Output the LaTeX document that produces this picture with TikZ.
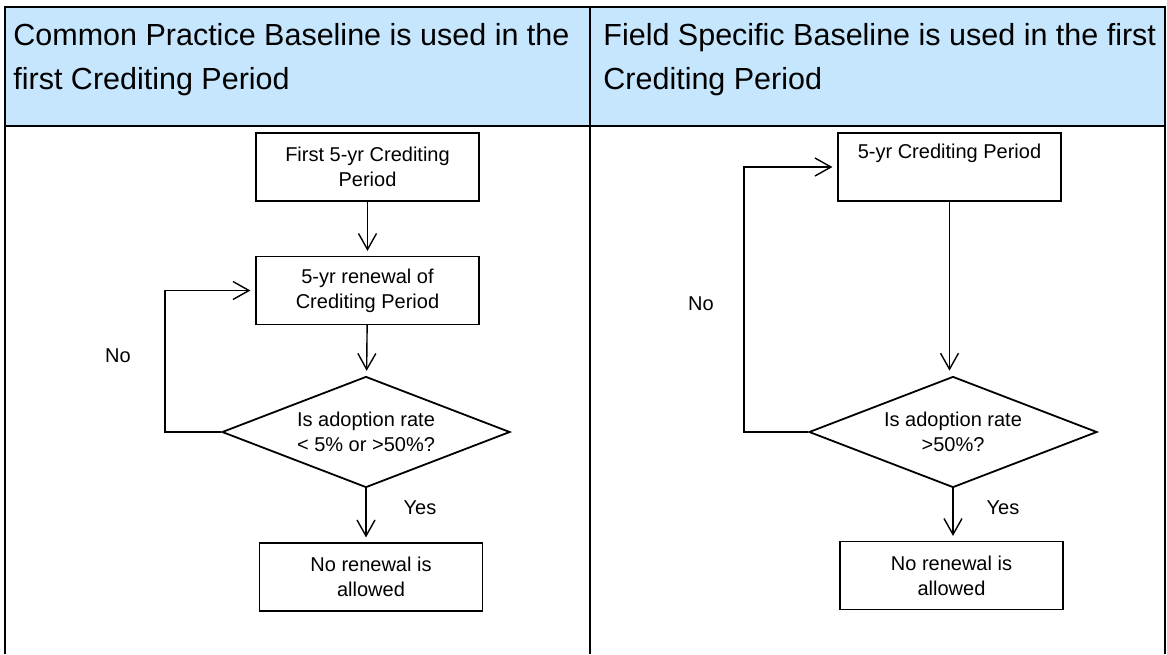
\documentclass[tikz,border=0pt]{standalone}
\usepackage{fontspec}
\setmainfont{Liberation Sans}
\usepackage{xcolor}
\usetikzlibrary{shapes.geometric,arrows.meta}
\definecolor{headblue}{RGB}{197,230,252}

\begin{document}
\begin{tikzpicture}[x=0.5pt,y=-0.5pt,
    box/.style={rectangle, draw, line width=0.6pt, minimum width=111.5pt, minimum height=34pt, inner sep=0pt, align=center, font=\fontsize{10}{12.5}\selectfont},
    decision/.style={diamond, aspect=2.6, draw, line width=0.9pt, minimum width=144pt, minimum height=55.5pt, inner sep=0pt, align=center, font=\fontsize{10}{12.5}\selectfont},
    flow/.style={-{Straight Barb[length=8pt,width=9pt]}, line width=0.7pt, shorten >=2.5pt},
    tag/.style={inner sep=0pt, font=\fontsize{10}{12}\selectfont},
    head/.style={anchor=north west, inner sep=0pt, align=left, font=\fontsize{15.25}{22}\selectfont},
    rule/.style={line width=1.2pt}]
    \useasboundingbox (0,0) rectangle (1167,654);

    %table
    \fill[headblue] (5,7) rectangle (1165,126);
    \path[draw,rule] (5,654) -- (5,7) -- (1165,7) -- (1165,654);
    \path[draw,rule] (5,126) -- (1165,126);
    \path[draw,rule] (590,7) -- (590,654);
    \node[head] (HL) at (13,23) {Common Practice Baseline is used in the\\first Crediting Period};
    \node[head] (HR) at (603,23) {Field Specific Baseline is used in the first\\Crediting Period};

    %common practice
    \node[box] (B1) at (367.5,167) {First 5-yr Crediting\\Period};
    \node[box] (B2) at (367.5,290.5) {5-yr renewal of\\Crediting Period};
    \node[decision] (D1) at (366,432) {Is adoption rate\\< 5\% or >50\%?};
    \node[box] (N1) at (371,577) {No renewal is\\allowed};
    \node[tag] (no1) at (118,356) {No};
    \node[tag] (yes1) at (420,508) {Yes};

    \path[draw,flow] (B1)--(B2);
    \path[draw,flow] (B2)--(D1);
    \path[draw,flow] (D1.west) -- ++(-56,0) |- (B2.west);
    \path[draw,flow] (D1.south) -- (D1.south |- N1.north);

    %field specific
    \node[box] (R1) at (949.5,167) {5-yr Crediting Period\\\strut};
    \node[decision] (D2) at (953,432) {Is adoption rate\\>50\%?};
    \node[box] (N2) at (951.5,575.5) {No renewal is\\allowed};
    \node[tag] (no2) at (701,304) {No};
    \node[tag] (yes2) at (1003,508) {Yes};

    \path[draw,flow] (R1.south) -- (R1.south |- D2.north);
    \path[draw,flow] (D2.west) -- ++(-64,0) |- (R1.west);
    \path[draw,flow] (D2.south) -- (D2.south |- N2.north);
\end{tikzpicture}
\end{document}
